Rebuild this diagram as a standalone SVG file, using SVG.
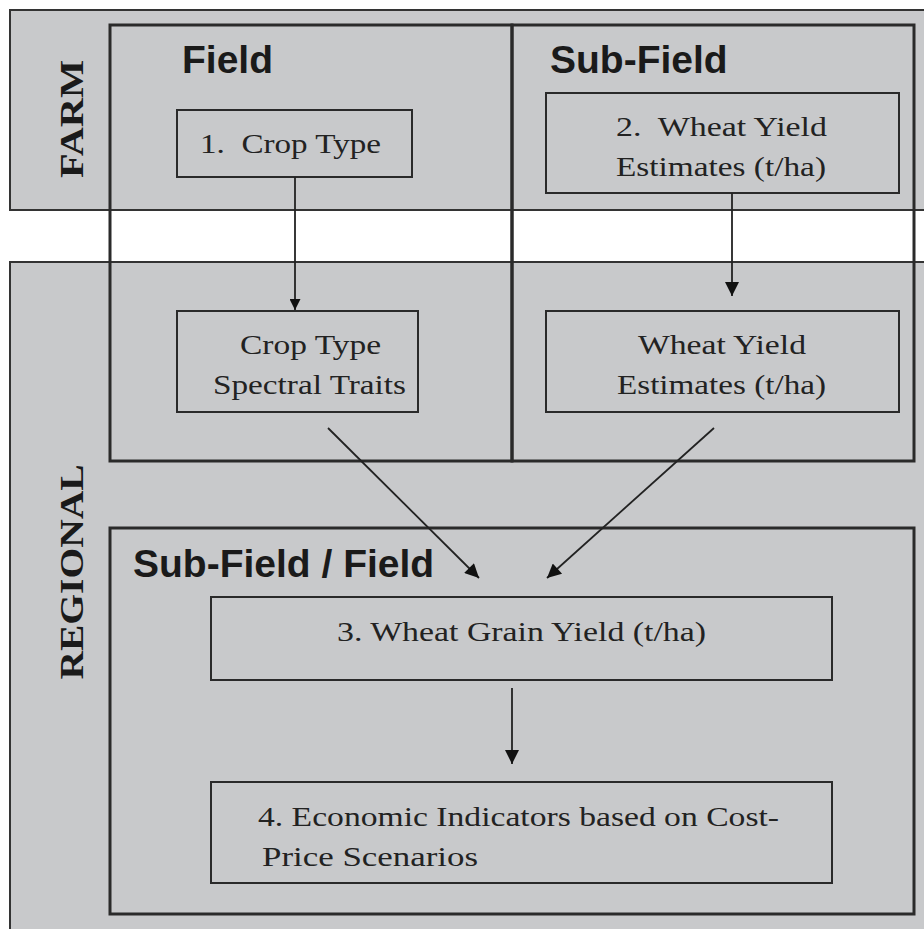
<svg xmlns="http://www.w3.org/2000/svg" width="924" height="929" viewBox="0 0 924 929">
<defs>
<style>
.zone{fill:#c8c9cb;stroke:#333;stroke-width:2}
.col{fill:none;stroke:#2a2a2a;stroke-width:3}
.box{fill:#c8c9cb;stroke:#2a2a2a;stroke-width:2}
.t{font-family:"Liberation Serif","Times New Roman",serif;font-size:28px;fill:#222}
.h{font-family:"Liberation Sans",Arial,sans-serif;font-size:39px;font-weight:bold;fill:#1a1a1a}
.z{font-family:"Liberation Serif","Times New Roman",serif;font-size:34px;font-weight:bold;fill:#1a1a1a}
.c{fill:none;stroke:#222;stroke-width:1.8}
</style>
<marker id="ah" viewBox="0 0 10 10" refX="10" refY="5" markerWidth="12" markerHeight="11" markerUnits="userSpaceOnUse" orient="auto">
<path d="M0,0 L10,5 L0,10 z" fill="#111"/>
</marker>
<marker id="ah2" viewBox="0 0 10 10" refX="10" refY="5" markerWidth="18" markerHeight="14" markerUnits="userSpaceOnUse" orient="auto">
<path d="M0,0 L10,5 L0,10 z" fill="#111"/>
</marker>
</defs>
<rect width="924" height="929" fill="#fff"/>
<g id="farm">
<rect class="zone" x="10" y="10" width="930" height="200"/>
<text class="z" transform="translate(83,119) rotate(-90)" text-anchor="middle" textLength="118" lengthAdjust="spacingAndGlyphs">FARM</text>
</g>
<g id="regional">
<rect class="zone" x="10" y="262" width="930" height="700"/>
<text class="z" transform="translate(83,572) rotate(-90)" text-anchor="middle" textLength="215" lengthAdjust="spacingAndGlyphs">REGIONAL</text>
</g>
<g id="field">
<rect class="col" x="110" y="25" width="402" height="436"/>
<text class="h" x="182" y="73">Field</text>
</g>
<g id="subfield">
<rect class="col" x="512" y="25" width="402" height="436"/>
<text class="h" x="550" y="73">Sub-Field</text>
</g>
<g id="subfield-field">
<rect class="col" x="110" y="528" width="804" height="386"/>
<text class="h" x="133" y="577">Sub-Field / Field</text>
</g>
<g id="n1">
<rect class="box" x="177" y="110" width="235" height="67"/>
<text class="t" x="200" y="153" textLength="181" lengthAdjust="spacingAndGlyphs" xml:space="preserve">1.  Crop Type</text>
</g>
<g id="n2">
<rect class="box" x="546" y="93" width="353" height="100"/>
<text class="t" x="616" y="136" textLength="211" lengthAdjust="spacingAndGlyphs" xml:space="preserve">2.  Wheat Yield</text>
<text class="t" x="616" y="176" textLength="210" lengthAdjust="spacingAndGlyphs">Estimates (t/ha)</text>
</g>
<g id="n1b">
<rect class="box" x="177" y="311" width="241" height="101"/>
<text class="t" x="240" y="354" textLength="141" lengthAdjust="spacingAndGlyphs">Crop Type</text>
<text class="t" x="213" y="394" textLength="193" lengthAdjust="spacingAndGlyphs">Spectral Traits</text>
</g>
<g id="n2b">
<rect class="box" x="546" y="311" width="353" height="101"/>
<text class="t" x="638" y="354" textLength="168" lengthAdjust="spacingAndGlyphs">Wheat Yield</text>
<text class="t" x="617" y="394" textLength="209" lengthAdjust="spacingAndGlyphs">Estimates (t/ha)</text>
</g>
<g id="n3">
<rect class="box" x="211" y="597" width="621" height="83"/>
<text class="t" x="337" y="641" textLength="369" lengthAdjust="spacingAndGlyphs">3. Wheat Grain Yield (t/ha)</text>
</g>
<g id="n4">
<rect class="box" x="211" y="782" width="621" height="101"/>
<text class="t" x="258" y="826" textLength="521" lengthAdjust="spacingAndGlyphs">4. Economic Indicators based on Cost-</text>
<text class="t" x="262" y="866" textLength="216" lengthAdjust="spacingAndGlyphs">Price Scenarios</text>
</g>
<g id="connectors">
<line class="c" x1="295" y1="177" x2="295" y2="310" marker-end="url(#ah)"/>
<line class="c" x1="732" y1="193" x2="732" y2="296" marker-end="url(#ah2)"/>
<line class="c" x1="328" y1="428" x2="479" y2="578" marker-end="url(#ah2)"/>
<line class="c" x1="714" y1="428" x2="547" y2="578" marker-end="url(#ah2)"/>
<line class="c" x1="512" y1="688" x2="512" y2="764" marker-end="url(#ah2)"/>
</g>
</svg>
